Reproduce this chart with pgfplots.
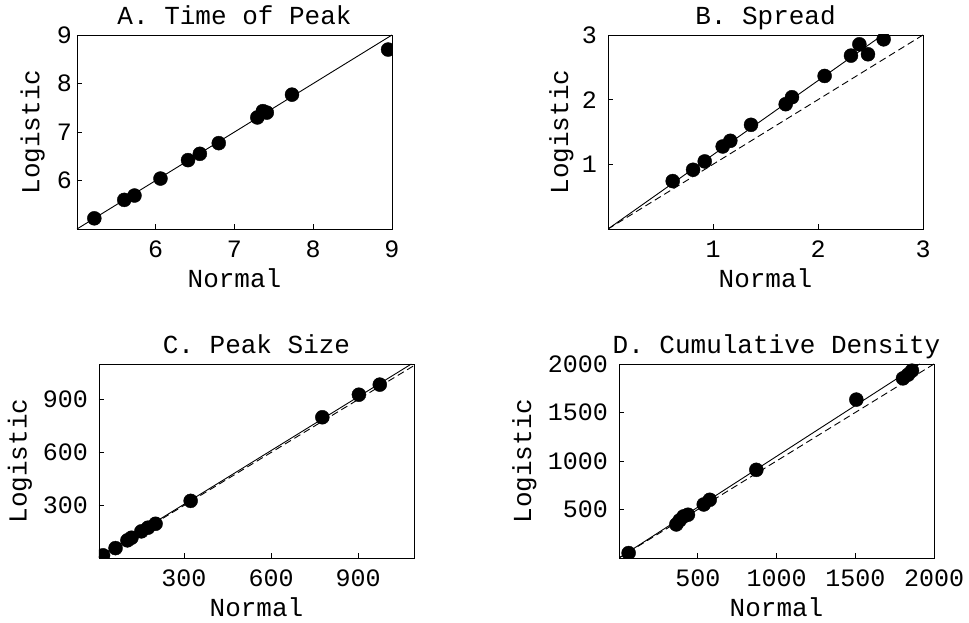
\documentclass[border=0pt]{standalone}
\usepackage{fontspec}
\setmainfont{Liberation Mono}
\usepackage{pgfplots}
\pgfplotsset{compat=1.18}
\pgfplotsset{
  every axis title shift=0pt,
  panel/.style={
    scale only axis, width=315pt, height=194pt, anchor=south west,
    axis line style={line width=0.8pt},
    tick pos=left, tick align=inside, major tick length=5pt,
    every tick/.style={black, line width=0.8pt},
    /pgf/number format/assume math mode=true,
    /pgf/number format/1000 sep={},
    tick label style={font=\fontsize{25}{25}\selectfont},
    xticklabel style={anchor=base, yshift=-29pt},
    label style={font=\fontsize{26}{26}\selectfont},
    title style={font=\fontsize{26}{26}\selectfont, at={(axis description cs:0.5,1.054)}, anchor=base},
    xlabel style={at={(axis description cs:0.5,-0.304)}, anchor=base},
    xlabel={Normal}, ylabel={Logistic},
    clip marker paths=true,
  },
  dots/.style={only marks, mark=*, mark size=7pt, black},
  fitline/.style={black, line width=0.9pt, no marks},
  idline/.style={black, line width=0.9pt, no marks, dash pattern=on 7pt off 4pt},
}
\begin{document}
\begin{tikzpicture}
\path[use as bounding box] (0,0) rectangle (969pt,623pt);

% A
\begin{axis}[panel, at={(77pt,394pt)},
  title={A. Time of Peak},
  xmin=5, xmax=9, ymin=5, ymax=9,
  xtick={6,7,8,9}, ytick={6,7,8,9},
  yticklabel style={anchor=east, inner sep=0pt, xshift=-5pt},
  ylabel style={at={(axis description cs:-0.141,0.5)}, anchor=center}]
\addplot[fitline] coordinates {(5,5) (9,9)};
\addplot[dots] table {
5.22 5.22
5.60 5.60
5.73 5.69
6.06 6.04
6.41 6.42
6.56 6.55
6.80 6.77
7.29 7.30
7.36 7.43
7.41 7.40
7.73 7.77
8.95 8.70
};
\end{axis}

% B
\begin{axis}[panel, at={(608pt,394pt)},
  title={B. Spread},
  xmin=0, xmax=3, ymin=0, ymax=3,
  xtick={1,2,3}, ytick={1,2,3},
  yticklabel style={anchor=east, inner sep=0pt, xshift=-11pt},
  ylabel style={at={(axis description cs:-0.148,0.5)}, anchor=center}]
\addplot[idline] coordinates {(0,0) (3,3)};
\addplot[fitline] coordinates {(0,0) (2.615,3)};
\addplot[dots] table {
0.616 0.741
0.810 0.916
0.921 1.045
1.092 1.276
1.165 1.364
1.362 1.611
1.692 1.930
1.752 2.038
2.063 2.367
2.314 2.681
2.394 2.856
2.476 2.702
2.625 2.933
};
\end{axis}

% C
\begin{axis}[panel, at={(99pt,65pt)},
  title={C. Peak Size},
  xmin=7, xmax=1093, ymin=2, ymax=1102,
  xtick={300,600,900}, ytick={300,600,900},
  yticklabel style={anchor=east, inner sep=0pt, xshift=-11pt},
  ylabel style={at={(axis description cs:-0.251,0.5)}, anchor=center}]
\addplot[idline] coordinates {(0,0) (1100,1100)};
\addplot[fitline] coordinates {(0,2) (1084,1102)};
\addplot[dots] table {
21 17
64 58
105 102
119 117
153 153
176 174
202 196
323 326
777 800
903 928
975 985
};
\end{axis}

% D
\begin{axis}[panel, at={(619pt,65pt)},
  title={D. Cumulative Density},
  xmin=0, xmax=2000, ymin=0, ymax=2000,
  xtick={500,1000,1500,2000}, ytick={500,1000,1500,2000},
  yticklabel style={anchor=east, inner sep=0pt, xshift=-11pt},
  ylabel style={at={(axis description cs:-0.300,0.5)}, anchor=center}]
\addplot[idline] coordinates {(0,0) (2000,2000)};
\addplot[fitline] coordinates {(0,0) (1909,2000)};
\addplot[dots] table {
61 51
364 346
385 388
410 429
438 446
538 552
576 600
872 909
1507 1633
1803 1852
1835 1890
1860 1931
};
\end{axis}
\end{tikzpicture}
\end{document}
